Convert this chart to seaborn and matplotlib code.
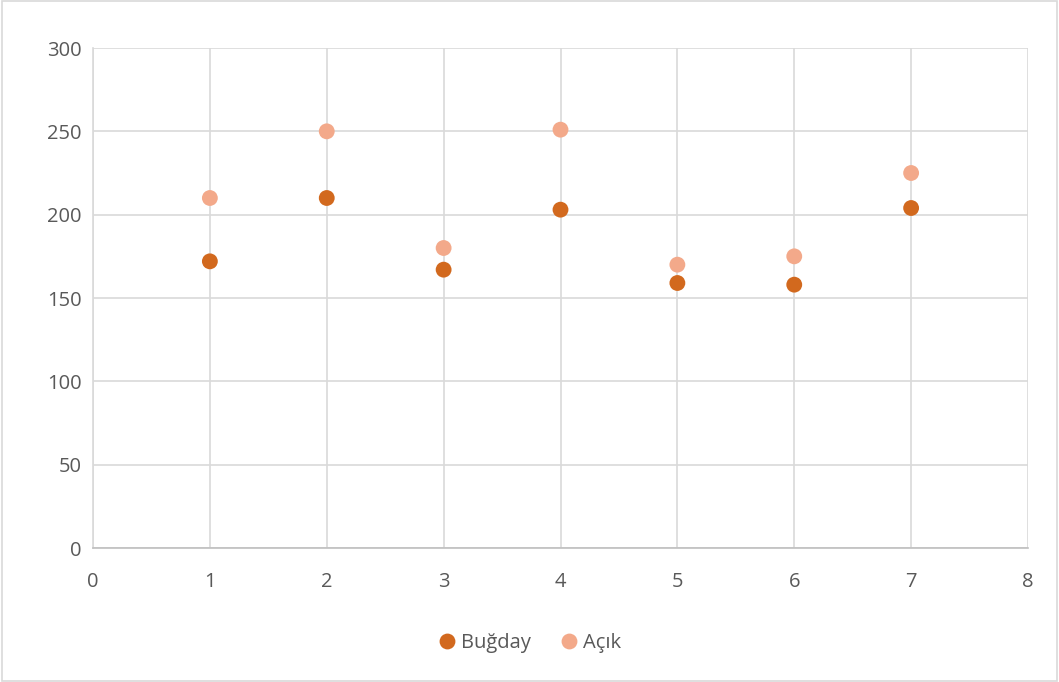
import matplotlib
matplotlib.use("Agg")
import matplotlib.pyplot as plt
import seaborn as sns
import pandas as pd
from matplotlib.patches import Rectangle

x_vals = [1, 2, 3, 4, 5, 6, 7]
bugday = [172, 210, 167, 203, 159, 158, 204]
acik = [210, 250, 180, 251, 170, 175, 225]
series_names = ["Buğday", "Açık"]
colors = ["#D2691E", "#F3A98A"]

df = pd.DataFrame({
    "x": x_vals * 2,
    "y": bugday + acik,
    "series": [series_names[0]] * len(x_vals) + [series_names[1]] * len(x_vals),
})

sns.set_style("white")
plt.rcParams["font.family"] = ["Open Sans", "DejaVu Sans"]

fig = plt.figure(figsize=(10.59, 6.82), dpi=100)
ax = fig.add_axes([93 / 1059, 1 - 548 / 682, (1028 - 93) / 1059, 500 / 682])

sns.scatterplot(data=df, x="x", y="y", hue="series", palette=colors,
                s=130, edgecolor="none", ax=ax, legend=True, zorder=3)

ax.set_xlim(0, 8)
ax.set_ylim(0, 300)
ax.set_xticks(range(0, 9))
ax.set_yticks(range(0, 301, 50))
ax.grid(True, color="#D9D9D9", linewidth=1.2)
ax.set_axisbelow(True)
for s in ["top", "right"]:
    ax.spines[s].set_visible(False)
ax.spines["left"].set_color("#D9D9D9")
ax.spines["bottom"].set_color("#BFBFBF")
ax.spines["left"].set_linewidth(1.2)
ax.spines["bottom"].set_linewidth(1.2)
ax.tick_params(axis="both", length=0, labelsize=14.5, labelcolor="#595959")
ax.tick_params(axis="x", pad=17)
ax.tick_params(axis="y", pad=8)
ax.set_xlabel("")
ax.set_ylabel("")

handles, labels = ax.get_legend_handles_labels()
ax.legend(handles, labels, loc="center", bbox_to_anchor=(0.5, 1 - 643 / 682),
          bbox_transform=fig.transFigure, ncol=2, frameon=False,
          fontsize=14.5, labelcolor="#595959", handlelength=0.9,
          handletextpad=0.25, columnspacing=1.4, markerscale=1.0)

fig.patches.append(Rectangle((0.002, 0.002), 0.996, 0.996, transform=fig.transFigure,
                             fill=False, edgecolor="#D9D9D9", linewidth=1.2))

fig.savefig("out.png", dpi=100, facecolor="white")
